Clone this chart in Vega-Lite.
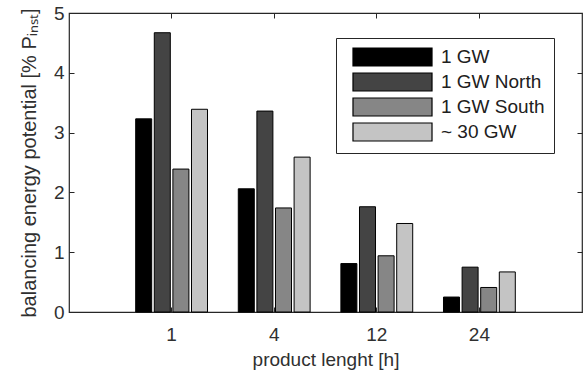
{
  "$schema": "https://vega.github.io/schema/vega-lite/v6.json",
  "width": 513,
  "height": 299,
  "autosize": {"type": "none"},
  "padding": {"left": 69, "top": 13, "right": 1, "bottom": 58},
  "background": "white",
  "config": {
    "font": "Liberation Sans",
    "view": {"stroke": "#262626", "strokeWidth": 1.2},
    "axis": {
      "labelFont": "Liberation Sans",
      "titleFont": "Liberation Sans",
      "labelFontSize": 19,
      "titleFontSize": 19,
      "labelColor": "#303030",
      "titleColor": "#303030",
      "titleFontWeight": "normal",
      "tickColor": "#262626",
      "domain": false,
      "grid": false
    }
  },
  "data": {
    "values": [
      {"len": "1", "series": "1 GW", "value": 3.23},
      {"len": "1", "series": "1 GW North", "value": 4.67},
      {"len": "1", "series": "1 GW South", "value": 2.39},
      {"len": "1", "series": "~ 30 GW", "value": 3.39},
      {"len": "4", "series": "1 GW", "value": 2.06},
      {"len": "4", "series": "1 GW North", "value": 3.36},
      {"len": "4", "series": "1 GW South", "value": 1.74},
      {"len": "4", "series": "~ 30 GW", "value": 2.59},
      {"len": "12", "series": "1 GW", "value": 0.81},
      {"len": "12", "series": "1 GW North", "value": 1.76},
      {"len": "12", "series": "1 GW South", "value": 0.94},
      {"len": "12", "series": "~ 30 GW", "value": 1.48},
      {"len": "24", "series": "1 GW", "value": 0.25},
      {"len": "24", "series": "1 GW North", "value": 0.75},
      {"len": "24", "series": "1 GW South", "value": 0.41},
      {"len": "24", "series": "~ 30 GW", "value": 0.67}
    ]
  },
  "layer": [
    {
      "mark": {"type": "bar", "stroke": "#000000", "strokeWidth": 1},
      "encoding": {
        "x": {
          "field": "len",
          "type": "nominal",
          "sort": ["1", "4", "12", "24"],
          "scale": {"paddingInner": 0.3, "paddingOuter": 0.65},
          "axis": {"orient": "bottom", "title": "product lenght [h]", "labelAngle": 0, "tickSize": -5, "labelPadding": 18, "titlePadding": 6}
        },
        "xOffset": {
          "field": "series",
          "type": "nominal",
          "sort": ["1 GW", "1 GW North", "1 GW South", "~ 30 GW"],
          "scale": {"paddingInner": 0.14, "paddingOuter": 0}
        },
        "y": {
          "field": "value",
          "type": "quantitative",
          "scale": {"domain": [0, 5], "nice": false},
          "axis": {"orient": "left", "title": "balancing energy potential [% Pᵢₙₛₜ]", "titleFontSize": 20, "values": [0, 1, 2, 3, 4, 5], "tickSize": -5, "labelPadding": 10, "titlePadding": 14}
        },
        "fill": {
          "field": "series",
          "type": "nominal",
          "sort": ["1 GW", "1 GW North", "1 GW South", "~ 30 GW"],
          "scale": {"range": ["#000000", "#444444", "#868686", "#c4c4c4"]},
          "legend": {
            "title": null,
            "orient": "none",
            "legendX": 267,
            "legendY": 25,
            "fillColor": "white",
            "strokeColor": "#262626",
            "padding": 9,
            "symbolType": "M-4.39,-1H4.39V1H-4.39Z",
            "symbolSize": 324,
            "symbolStrokeColor": "#000000",
            "symbolStrokeWidth": 1.2,
            "symbolOffset": 37.5,
            "labelFontSize": 19,
            "labelFont": "Liberation Sans",
            "labelColor": "#202020",
            "labelOffset": 38.5,
            "rowPadding": 1
          }
        }
      }
    },
    {
      "mark": {"type": "point", "opacity": 0},
      "encoding": {
        "x": {
          "field": "len",
          "type": "nominal",
          "sort": ["1", "4", "12", "24"],
          "scale": {"paddingInner": 0.3, "paddingOuter": 0.65},
          "axis": {"orient": "top", "title": null, "labels": false, "tickSize": -5}
        },
        "y": {
          "field": "value",
          "type": "quantitative",
          "scale": {"domain": [0, 5], "nice": false},
          "axis": {"orient": "right", "title": null, "labels": false, "values": [0, 1, 2, 3, 4, 5], "tickSize": -5}
        }
      }
    }
  ],
  "resolve": {"axis": {"x": "independent", "y": "independent"}}
}
